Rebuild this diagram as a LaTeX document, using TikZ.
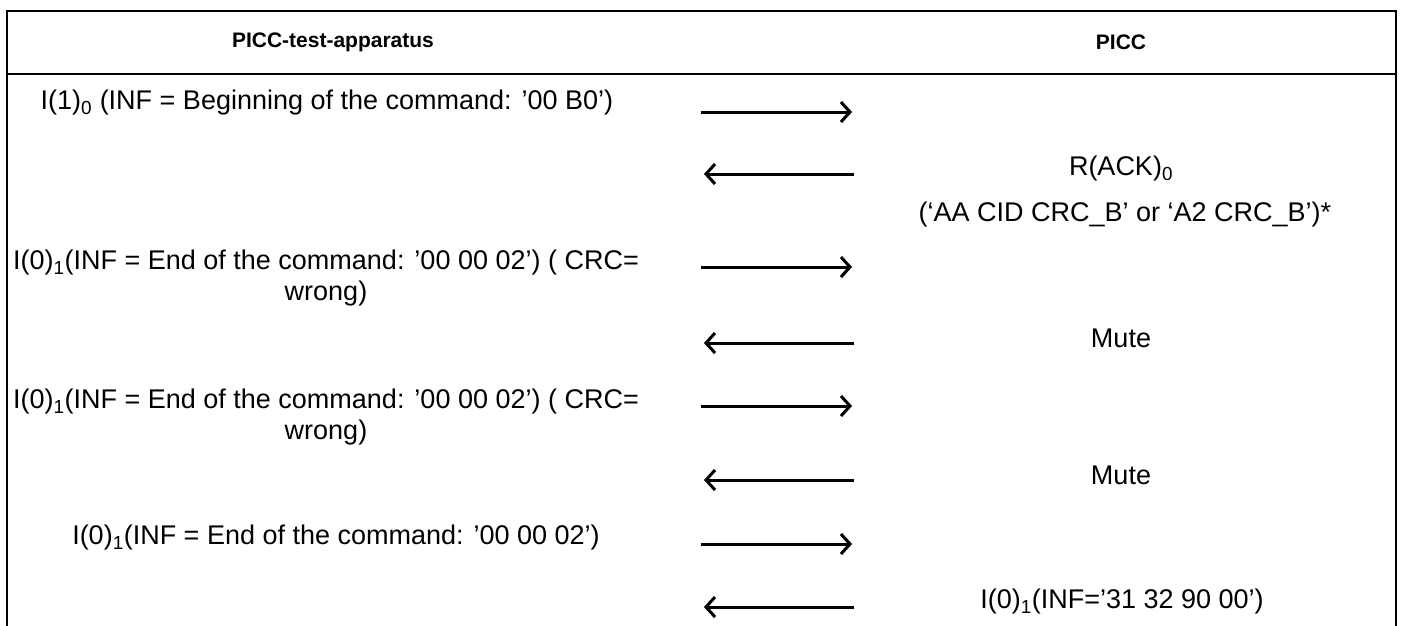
\documentclass[tikz,border=0pt]{standalone}
\usepackage{fontspec}
\setmainfont{Liberation Sans}
\usetikzlibrary{arrows.meta}
\begin{document}
\begin{tikzpicture}[x=1pt,y=-1pt,
  frame/.style={line width=2.6pt,line cap=rect},
  msg/.style={line width=3pt,-{Straight Barb[length=9pt,width=20pt,line width=3pt]}},
  head/.style={font=\fontsize{21}{25}\selectfont\bfseries,inner sep=0pt},
  body/.style={font=\fontsize{27}{31}\selectfont,inner sep=0pt,align=center}]
  \useasboundingbox (0,0) rectangle (1401,626);
  \fill[white] (0,0) rectangle (1401,626);

  % table frame: top rule, header rule and the two sides
  \coordinate (tl) at (7,11);
  \coordinate (tr) at (1396,11);
  \coordinate (hl) at (7,74);
  \coordinate (hr) at (1396,74);
  \coordinate (bl) at (7,626);
  \coordinate (br) at (1396,626);
  \draw[frame] (bl) -- (tl) -- (tr) -- (br);
  \draw[frame] (hl) -- (hr);

  % column headings
  \node[head] (hpcd) at (333,42) {PICC-test-apparatus};
  \node[head] (hpicc) at (1121,42) {PICC};

  % messages sent by the test apparatus
  \node[body] (m1) at (327,103) {I(1)\textsubscript{0} (INF = Beginning of the command: ’00 B0’)};
  \node[body,anchor=north] (m3) at (326,250) {I(0)\textsubscript{1}(INF = End of the command: ’00 00 02’) ( CRC=\\ wrong)};
  \node[body,anchor=north] (m5) at (326,389) {I(0)\textsubscript{1}(INF = End of the command: ’00 00 02’) ( CRC=\\ wrong)};
  \node[body] (m7) at (336,538) {I(0)\textsubscript{1}(INF = End of the command: ’00 00 02’)};

  % answers from the PICC
  \node[body] (r2) at (1121,169) {R(ACK)\textsubscript{0}};
  \node[body] (r2b) at (1125,215) {(‘AA CID CRC\_B’ or ‘A2 CRC\_B’)*};
  \node[body] (r4) at (1121,338) {Mute};
  \node[body] (r6) at (1121,475) {Mute};
  \node[body] (r8) at (1122,602) {I(0)\textsubscript{1}(INF=’31 32 90 00’)};

  % arrow end points
  \coordinate (a1s) at (701,112); \coordinate (a1e) at (852,112);
  \coordinate (a2s) at (854,174); \coordinate (a2e) at (704,174);
  \coordinate (a3s) at (701,267); \coordinate (a3e) at (852,267);
  \coordinate (a4s) at (854,343); \coordinate (a4e) at (704,343);
  \coordinate (a5s) at (701,406); \coordinate (a5e) at (852,406);
  \coordinate (a6s) at (854,480); \coordinate (a6e) at (704,480);
  \coordinate (a7s) at (701,544); \coordinate (a7e) at (852,544);
  \coordinate (a8s) at (854,607); \coordinate (a8e) at (704,607);

  \draw[msg] (a1s) -- (a1e);
  \draw[msg] (a2s) -- (a2e);
  \draw[msg] (a3s) -- (a3e);
  \draw[msg] (a4s) -- (a4e);
  \draw[msg] (a5s) -- (a5e);
  \draw[msg] (a6s) -- (a6e);
  \draw[msg] (a7s) -- (a7e);
  \draw[msg] (a8s) -- (a8e);
\end{tikzpicture}
\end{document}
